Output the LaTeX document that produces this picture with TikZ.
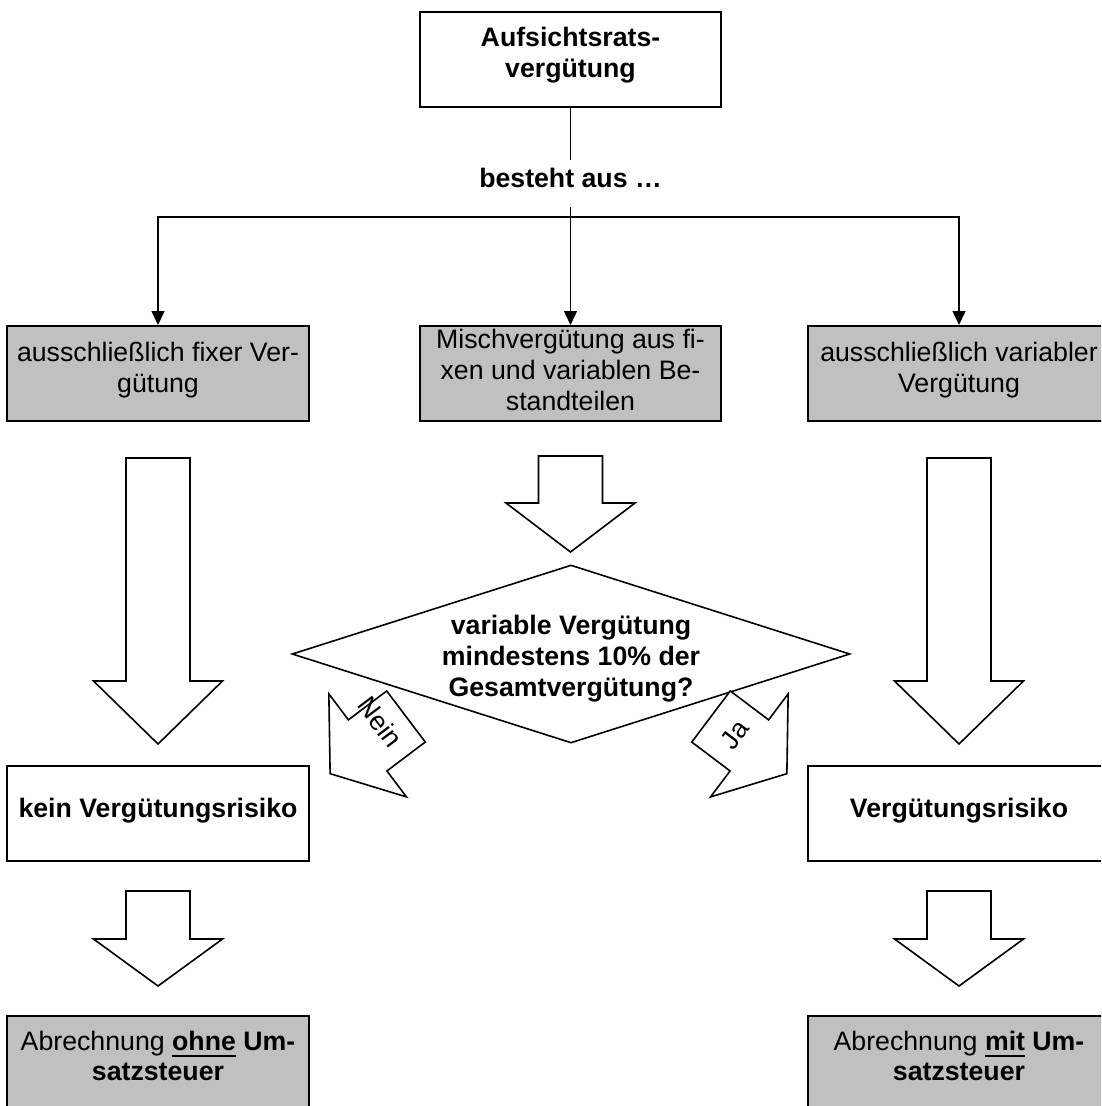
\documentclass[tikz,border=0pt]{standalone}
\usepackage{fontspec}
\setmainfont{Liberation Sans}
\usetikzlibrary{shapes.geometric,arrows.meta}
\definecolor{boxgray}{RGB}{192,192,192}
\newcommand\fsz{\fontsize{26.7pt}{30.7pt}\selectfont}
\newcommand\tb[1]{\begin{tabular}{@{}c@{}}#1\end{tabular}}
\newcommand\ulx[1]{\setbox0=\hbox{#1}\rlap{\rule[-6.7pt]{\wd0}{2.2pt}}\box0\relax}
\newcommand\blockarr[2]{\draw[blk] (-32,0) -- (32,0) -- (32,#1) -- (64.5,#1) -- (0,#1+#2) -- (-64.5,#1) -- (-32,#1) -- cycle;}
\begin{document}
\begin{tikzpicture}[x=1pt,y=-1pt,
  every node/.style={font=\fsz, inner sep=0pt},
  plainbox/.style={draw, line width=2pt, minimum width=301.5pt, minimum height=95pt},
  graybox/.style={plainbox, fill=boxgray},
  conn/.style={line width=1.5pt, -{Triangle[width=13pt,length=14pt]}},
  blk/.style={draw, line width=1.6pt, fill=white, line join=miter},
]
\clip (0,0) rectangle (1101,1106);

% top
\node[plainbox, font=\fsz\bfseries] (top) at (570.5,59.5) {\tb{Aufsichtsrats-\\vergütung\\[6.6pt]}};
\node[font=\fsz\bfseries, text height=20pt, text depth=13pt, minimum height=47pt] (lbl) at (570.5,183.5) {besteht aus …};
\coordinate (bar) at (570.5,217);

% second row
\node[graybox] (left) at (158,373.5) {\tb{ausschließlich fixer Ver-\\gütung\\[4.6pt]}};
\node[graybox] (mid) at (570.5,373.5) {\tb{Mischvergütung aus fi-\\xen und variablen Be-\\standteilen}};
\node[graybox] (right) at (959,373.5) {\tb{ausschließlich variabler\\Vergütung\\[4.6pt]}};

% connectors
\draw[line width=1.5pt] (top.south) -- (lbl.north);
\draw[conn] (lbl.south) -- (mid.north);
\draw[conn] (bar) -| (left.north);
\draw[conn] (bar) -| (right.north);

% big block arrows
\begin{scope}[shift={(158,458)}]\blockarr{223}{63}\end{scope}
\begin{scope}[shift={(959,458)}]\blockarr{223}{63}\end{scope}
\begin{scope}[shift={(570.5,456)}]\blockarr{47}{49}\end{scope}

% decision
\node[diamond, draw, line width=1.6pt, aspect=3.135, minimum width=558pt, minimum height=178pt, inner sep=-20pt, font=\fsz\bfseries] (q) at (571,654)
  {\tb{\rule{0pt}{32.5pt}variable Vergütung\\mindestens 10\% der\\Gesamtvergütung?}};

% Nein / Ja arrows
\begin{scope}[shift={(406,716.5)}, rotate=-53]
  \blockarr{48}{47}
  \node[rotate=-53] (nein) at (-11,24) {Nein};
\end{scope}
\begin{scope}[shift={(711,716.5)}, rotate=53]
  \blockarr{48}{47}
  \node[rotate=53] (ja) at (0,30) {Ja};
\end{scope}

% risk row
\node[plainbox, font=\fsz\bfseries] (kein) at (158,813) {\tb{kein Vergütungsrisiko\\[4.3pt]}};
\node[plainbox, font=\fsz\bfseries] (risk) at (959,813) {\tb{Vergütungsrisiko\\[4.3pt]}};

\begin{scope}[shift={(158,891)}]\blockarr{48}{47}\end{scope}
\begin{scope}[shift={(959,891)}]\blockarr{48}{47}\end{scope}

% bottom row
\node[graybox] (ohne) at (158,1063.5) {\tb{Abrechnung \ulx{\bfseries ohne} \textbf{Um-}\\\textbf{satzsteuer}\\[8.6pt]}};
\node[graybox] (mit) at (959,1063.5) {\tb{Abrechnung \ulx{\bfseries mit} \textbf{Um-}\\\textbf{satzsteuer}\\[8.6pt]}};
\end{tikzpicture}
\end{document}
